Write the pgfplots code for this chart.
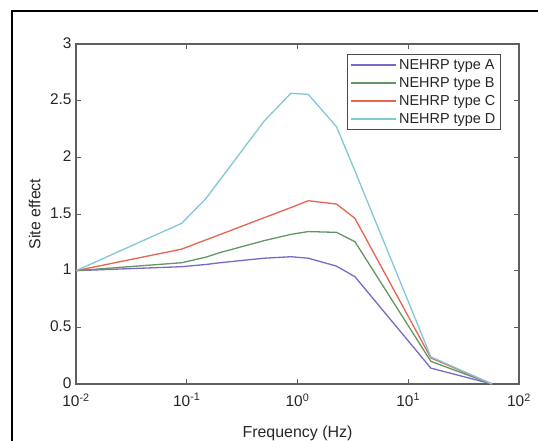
\documentclass[border=0pt]{standalone}
\usepackage{fontspec}
\setmainfont{Liberation Sans}
\usepackage{pgfplots}
\pgfplotsset{compat=1.18}
\definecolor{siteA}{RGB}{120,105,200}
\definecolor{siteB}{RGB}{100,150,100}
\definecolor{siteC}{RGB}{230,100,80}
\definecolor{siteD}{RGB}{130,200,212}
\definecolor{axgray}{RGB}{95,95,95}

\begin{document}
\begin{tikzpicture}
\begin{axis}[
    name=ax, at={(0,0)}, anchor=south west,
    scale only axis,
    width=443bp, height=340bp,
    xmode=log, log basis x={10},
    xmin=0.01, xmax=100,
    ymin=0, ymax=3,
    xtick={0.01,0.1,1,10,100},
    xticklabels={10\textsuperscript{-2},10\textsuperscript{-1},10\textsuperscript{0},10\textsuperscript{1},10\textsuperscript{2}},
    ytick={0,0.5,1,1.5,2,2.5,3},
    yticklabels={0,0.5,1,1.5,2,2.5,3},
    /pgf/number format/assume math mode=true,
    axis line style={axgray, line width=1.1bp},
    every tick/.style={axgray, line width=0.8bp},
    major tick length=5bp, minor tick length=3bp,
    tick align=inside,
    tick label style={font=\fontsize{15.5}{18}\selectfont, text=black!85},
    xticklabel style={yshift=-6bp},
    yticklabel style={xshift=-1bp, yshift=1bp},
    xlabel={Frequency (Hz)},
    ylabel={Site effect},
    label style={font=\fontsize{16}{19}\selectfont, text=black!85},
    xlabel style={at={(axis description cs:0.5,-0.146)}, anchor=center},
    ylabel style={at={(axis description cs:-0.093,0.5)}, anchor=center},
    legend style={at={(0.612,0.971)}, anchor=north west,
        draw=axgray!80!black, line width=1.2bp, fill=white,
        font=\fontsize{14.5}{17}\selectfont, text=black!85,
        inner xsep=3bp, inner ysep=3bp, row sep=2.5bp,
        cells={anchor=west}},
    legend image code/.code={\draw[#1, line width=1.4bp] (0bp,0bp) -- (45bp,0bp);},
]
\addplot[siteA, line width=1.3bp] coordinates {
    (0.01,1.0) (0.09,1.035) (0.15,1.055) (0.2,1.07) (0.5,1.11) (0.87,1.123)
    (1.25,1.11) (2.25,1.04) (3.3,0.947) (16,0.14) (57,0.0)
};
\addlegendentry{NEHRP type A}
\addplot[siteB, line width=1.3bp] coordinates {
    (0.01,1.0) (0.09,1.07) (0.15,1.12) (0.2,1.16) (0.5,1.265) (0.87,1.32)
    (1.25,1.345) (2.25,1.338) (3.3,1.256) (16,0.2) (57,0.0)
};
\addlegendentry{NEHRP type B}
\addplot[siteC, line width=1.3bp] coordinates {
    (0.01,1.0) (0.09,1.19) (0.15,1.273) (0.2,1.319) (0.5,1.467) (0.87,1.556)
    (1.25,1.617) (2.25,1.588) (3.3,1.462) (16,0.23) (57,0.0)
};
\addlegendentry{NEHRP type C}
\addplot[siteD, line width=1.3bp] coordinates {
    (0.01,1.0) (0.09,1.418) (0.15,1.64) (0.5,2.32) (0.87,2.565)
    (1.25,2.556) (2.25,2.27) (3.3,1.88) (16,0.24) (57,0.0)
};
\addlegendentry{NEHRP type D}
\end{axis}
\pgfresetboundingbox
\path[use as bounding box] (-76bp,-57bp) rectangle (462bp,384bp);
\draw[black, line width=2bp] (-64bp,-70bp) -- (-64bp,373bp) -- (480bp,373bp);
\end{tikzpicture}
\end{document}
